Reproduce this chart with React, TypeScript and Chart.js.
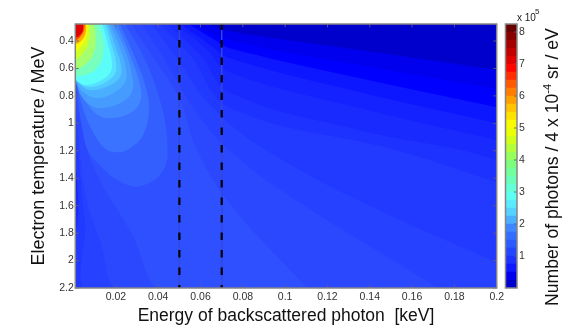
import React, { useEffect, useRef } from "react";
import { Chart, registerables } from "chart.js";

Chart.register(...registerables);

type Pt = [number, number];

const xTicks = [0.02, 0.04, 0.06, 0.08, 0.1, 0.12, 0.14, 0.16, 0.18, 0.2];
const yTicks = [0.4, 0.6, 0.8, 1, 1.2, 1.4, 1.6, 1.8, 2, 2.2];
const barTicks = [1, 2, 3, 4, 5, 6, 7, 8];
const markers = [0.05, 0.07];
const X_MIN = 0.0008, X_MAX = 0.2, Y_MIN = 0.276, Y_MAX = 2.2, BAR_MAX = 8.25;

// corners just outside the axes, used to close contour regions
const TL: Pt = [-0.002, 0.26];
const BR: Pt = [0.206, 2.25];
const BL: Pt = [-0.002, 2.25];

// filled contour regions, outermost first: [energy keV, temperature MeV]
const contourColors = [
  "rgb(0,0,205)", "rgb(0,0,238)", "rgb(0,0,255)", "rgb(12,22,255)", "rgb(20,34,255)", "rgb(25,42,255)",
  "rgb(29,50,255)", "rgb(34,58,255)", "rgb(38,65,255)", "rgb(43,72,255)", "rgb(47,80,255)",
  "rgb(52,95,255)", "rgb(58,115,255)", "rgb(65,135,255)", "rgb(70,155,255)", "rgb(75,175,255)",
  "rgb(80,200,255)", "rgb(85,225,255)", "rgb(92,252,248)", "rgb(120,255,190)", "rgb(165,255,110)",
  "rgb(205,255,40)", "rgb(250,250,0)", "rgb(255,170,0)", "rgb(255,70,0)", "rgb(225,0,0)",
];
const c00: Pt[] = [[-0.002, 0.26], [0.206, 0.26], BR, BL];
const c01: Pt[] = [[0.0598, 0.26], [0.0735, 0.327], [0.1351, 0.466], [0.2, 0.612], [0.206, 0.63], BR, BL, TL];
const c02: Pt[] = [[0.055, 0.26], [0.0735, 0.393], [0.1351, 0.575], [0.2, 0.75], [0.206, 0.765], BR, BL, TL];
const c03: Pt[] = [[0.0527, 0.26], [0.0669, 0.393], [0.0735, 0.451], [0.1351, 0.67], [0.2, 0.882], [0.206, 0.9], BR, BL, TL];
const c04: Pt[] = [[0.0494, 0.26], [0.0645, 0.429], [0.0735, 0.524], [0.1351, 0.772], [0.2, 0.999], [0.206, 1.02], BR, [0.0015, 2.25], [0.0012, 1.5], [-0.002, 0.8], TL];
const c05: Pt[] = [[0.0465, 0.26], [0.0622, 0.451], [0.0735, 0.626], [0.1351, 0.889], [0.2, 1.123], [0.206, 1.145], BR, [0.0024, 2.25], [0.0015, 1.415], [-0.002, 0.8], TL];
const c06: Pt[] = [[0.0432, 0.26], [0.0598, 0.502], [0.0735, 0.772], [0.1351, 1.05], [0.1839, 1.196], [0.2, 1.269], [0.206, 1.29], BR, [0.0043, 2.25], [0.0022, 1.561], [-0.001, 0.9], TL];
const c07: Pt[] = [[0.0399, 0.26], [0.055, 0.502], [0.0735, 0.882], [0.1526, 1.196], [0.2, 1.429], [0.206, 1.46], BR, [0.0053, 2.25], [0.0024, 1.561], [-0.001, 0.9], TL];
const c08: Pt[] = [[0.0361, 0.26], [0.0494, 0.539], [0.0645, 0.867], [0.091, 1.196], [0.1445, 1.634], [0.2, 2.013], [0.206, 2.06], BR, [0.0096, 2.25], [0.0053, 1.707], [0.002, 1.196], [-0.001, 0.7], TL];
const c09: Pt[] = [[0.0314, 0.26], [0.0432, 0.539], [0.0574, 0.904], [0.0735, 1.196], [0.1052, 1.561], [0.1716, 2.195], [0.175, 2.25], [0.0243, 2.25], [0.0124, 1.853], [0.0053, 1.488], [0.002, 1.05], [-0.001, 0.6], TL];
const c10: Pt[] = [[0.0266, 0.26], [0.0385, 0.539], [0.0503, 0.831], [0.0583, 1.196], [0.0744, 1.597], [0.11, 2.195], [0.113, 2.25], [0.0442, 2.25], [0.0267, 1.78], [0.0101, 1.342], [0.003, 0.977], [-0.001, 0.6], TL];
const c11: Pt[] = [[0.0238, 0.26], [0.0338, 0.539], [0.0408, 0.831], [0.0442, 1.123], [0.0423, 1.342], [0.0314, 1.458], [0.021, 1.415], [0.0124, 1.305], [0.0067, 1.196], [0.0039, 1.013], [0.002, 0.831], [0.0011, 0.648], [-0.001, 0.6], TL];
const c12: Pt[] = [[0.0214, 0.26], [0.0285, 0.502], [0.0338, 0.721], [0.0356, 0.904], [0.0328, 1.086], [0.0266, 1.181], [0.021, 1.21], [0.0148, 1.181], [0.0087, 1.05], [0.0039, 0.867], [0.0011, 0.685], [-0.001, 0.6], TL];
const c13: Pt[] = [[0.02, 0.26], [0.0266, 0.502], [0.0314, 0.721], [0.0314, 0.845], [0.0266, 0.926], [0.0172, 0.962], [0.0115, 0.94], [0.0063, 0.853], [0.0025, 0.758], [0.0011, 0.67], [-0.001, 0.6], TL];
const c14: Pt[] = [[0.0181, 0.26], [0.0243, 0.466], [0.0276, 0.648], [0.0276, 0.772], [0.0219, 0.853], [0.0124, 0.889], [0.0077, 0.867], [0.0034, 0.794], [0.0011, 0.699], [-0.001, 0.6], TL];
const c15: Pt[] = [[0.0167, 0.26], [0.0219, 0.451], [0.0247, 0.597], [0.0243, 0.699], [0.0186, 0.78], [0.011, 0.816], [0.0058, 0.787], [0.0025, 0.736], [0.0011, 0.67], [-0.001, 0.6], TL];
const c16: Pt[] = [[0.0158, 0.26], [0.02, 0.451], [0.0224, 0.575], [0.0219, 0.663], [0.0162, 0.729], [0.0082, 0.758], [0.0039, 0.729], [0.0011, 0.67], [-0.001, 0.6], TL];
const c17: Pt[] = [[0.0148, 0.26], [0.0181, 0.437], [0.02, 0.553], [0.0195, 0.641], [0.0143, 0.707], [0.0072, 0.736], [0.0034, 0.714], [0.0011, 0.67], [-0.001, 0.6], TL];
const c18: Pt[] = [[0.0134, 0.26], [0.0162, 0.422], [0.0181, 0.553], [0.0172, 0.633], [0.0124, 0.692], [0.0063, 0.721], [0.003, 0.707], [0.0011, 0.685], [-0.001, 0.6], TL];
const c19: Pt[] = [[0.012, 0.26], [0.0139, 0.393], [0.0139, 0.502], [0.011, 0.597], [0.0067, 0.641], [0.0011, 0.648], [-0.001, 0.58], TL];
const c20: Pt[] = [[0.0096, 0.26], [0.0105, 0.378], [0.0096, 0.48], [0.0067, 0.553], [0.0011, 0.604], [-0.001, 0.55], TL];
const c21: Pt[] = [[0.0077, 0.26], [0.0077, 0.356], [0.0067, 0.429], [0.0044, 0.488], [0.0011, 0.531], [-0.001, 0.48], TL];
const c22: Pt[] = [[0.0067, 0.26], [0.0063, 0.345], [0.0052, 0.4], [0.0032, 0.445], [0.0011, 0.47], [-0.001, 0.42], TL];
const c23: Pt[] = [[0.0058, 0.26], [0.0058, 0.335], [0.0044, 0.385], [0.0011, 0.42], [-0.001, 0.38], TL];
const c24: Pt[] = [[0.0053, 0.26], [0.0049, 0.32], [0.0034, 0.364], [0.0011, 0.393], [-0.001, 0.36], TL];
const c25: Pt[] = [[0.0044, 0.26], [0.0044, 0.32], [0.003, 0.356], [0.0011, 0.371], [-0.001, 0.34], TL];
const contours: Pt[][] = [c00, c01, c02, c03, c04, c05, c06, c07, c08, c09, c10, c11, c12, c13, c14, c15, c16, c17, c18, c19, c20, c21, c22, c23, c24, c25];

// colour bar bands: upper value (x 10^5) and colour
const bandTops = [0.25, 0.5, 0.75, 1, 1.25, 1.5, 1.75, 2, 2.25, 2.5, 2.75, 3, 3.25, 3.5, 3.75, 4, 4.25, 4.5, 4.75, 5, 5.25, 5.5, 5.75, 6, 6.25, 6.5, 6.75, 7, 7.25, 7.5, 7.75, 8, 8.25];
const bandColors = [
  "rgb(0,0,205)", "rgb(0,0,240)", "rgb(15,25,255)", "rgb(28,50,255)", "rgb(35,70,255)", "rgb(43,90,255)",
  "rgb(52,110,255)", "rgb(62,135,255)", "rgb(75,175,255)", "rgb(85,210,255)", "rgb(90,235,255)", "rgb(92,255,240)",
  "rgb(100,255,215)", "rgb(105,255,185)", "rgb(115,255,155)", "rgb(125,255,125)", "rgb(150,255,90)", "rgb(180,255,55)",
  "rgb(210,255,25)", "rgb(235,255,5)", "rgb(250,250,0)", "rgb(255,225,0)", "rgb(255,195,0)", "rgb(255,160,0)",
  "rgb(255,125,0)", "rgb(255,90,0)", "rgb(255,45,0)", "rgb(255,5,0)", "rgb(225,0,0)", "rgb(195,0,0)",
  "rgb(165,0,0)", "rgb(135,0,0)", "rgb(105,0,0)",
];

const FONT = "'Liberation Sans', Arial, sans-serif";
const FRAME = "#858585";

const frame = (tickLen: number, both: boolean) => ({
  id: "frame",
  afterDatasetsDraw(chart: any) {
    const { ctx, chartArea: a, scales } = chart;
    ctx.save();
    ctx.strokeStyle = "rgba(95,95,120,0.85)";
    ctx.lineWidth = 1;
    ctx.beginPath();
    for (const id of Object.keys(scales)) {
      const s = scales[id];
      if (!s.options.display) continue;
      for (const t of s.ticks) {
        const p = s.getPixelForValue(t.value);
        if (s.isHorizontal()) {
          ctx.moveTo(p, a.bottom); ctx.lineTo(p, a.bottom - tickLen);
          ctx.moveTo(p, a.top); ctx.lineTo(p, a.top + tickLen);
        } else {
          ctx.moveTo(a.right, p); ctx.lineTo(a.right - tickLen, p);
          if (both) { ctx.moveTo(a.left, p); ctx.lineTo(a.left + tickLen, p); }
        }
      }
    }
    ctx.stroke();
    ctx.strokeStyle = FRAME;
    ctx.lineWidth = 1.5;
    ctx.strokeRect(a.left, a.top, a.right - a.left, a.bottom - a.top);
    ctx.restore();
  },
});

const barText = {
  id: "barText",
  afterDraw(chart: any) {
    const { ctx } = chart;
    ctx.save();
    ctx.fillStyle = "#222";
    ctx.textBaseline = "alphabetic";
    ctx.font = `10px ${FONT}`;
    ctx.fillText("x 10", 517, 21);
    ctx.font = `8px ${FONT}`;
    ctx.fillText("5", 535, 13.5);
    // rotated axis title, running upwards from the bottom
    ctx.translate(558, 306);
    ctx.rotate(-Math.PI / 2);
    ctx.fillStyle = "#111";
    const big = `17.6px ${FONT}`;
    const small = `11px ${FONT}`;
    let x = 0;
    ctx.font = big;
    const head = "Number of photons / 4 x 10";
    ctx.fillText(head, x, 0);
    x += ctx.measureText(head).width;
    ctx.font = small;
    ctx.fillText("-4", x, -7);
    x += ctx.measureText("-4").width;
    ctx.font = big;
    ctx.fillText(" sr / eV", x, 0);
    ctx.restore();
  },
};

export default function App() {
  const mainRef = useRef<HTMLCanvasElement>(null);
  const barRef = useRef<HTMLCanvasElement>(null);

  useEffect(() => {
    const main = new Chart(mainRef.current!, {
      type: "scatter",
      data: {
        datasets: [
          ...contours.map((pts, i) => ({
            data: pts.map(([x, y]) => ({ x, y })),
            showLine: true,
            fill: "shape",
            backgroundColor: contourColors[i],
            borderColor: contourColors[i],
            borderWidth: 0,
            pointRadius: 0,
            tension: 0.4,
            order: 100 - i,
          })),
          ...markers.map((m) => ({
            data: [{ x: m, y: Y_MIN }, { x: m, y: Y_MAX }],
            showLine: true,
            borderColor: "rgb(55,72,215)",
            borderWidth: 1,
            pointRadius: 0,
            order: 2,
          })),
          ...markers.map((m) => ({
            data: [{ x: m, y: Y_MIN }, { x: m, y: Y_MAX }],
            showLine: true,
            borderColor: "#000",
            borderWidth: 2.2,
            borderDash: [7.5, 10],
            borderDashOffset: 1.5,
            pointRadius: 0,
            order: 1,
          })),
        ],
      } as any,
      options: {
        animation: false,
        responsive: false,
        events: [],
        layout: { padding: { left: 0, right: 85.3, top: 24, bottom: 0 } },
        plugins: { legend: { display: false }, tooltip: { enabled: false } },
        scales: {
          x: {
            type: "linear",
            min: X_MIN,
            max: X_MAX,
            grid: { display: false, drawTicks: false },
            border: { display: false },
            afterBuildTicks: (s: any) => { s.ticks = xTicks.map((value) => ({ value })); },
            afterFit: (s: any) => { s.height = 40; },
            ticks: { callback: (v: any) => String(v), maxRotation: 0, autoSkip: false, padding: 3, color: "#333", font: { family: FONT, size: 10.5 } },
            title: { display: true, text: "Energy of backscattered photon  [keV]", color: "#111", padding: { top: 0, bottom: 1 }, font: { family: FONT, size: 17.5 } },
          },
          y: {
            type: "linear",
            reverse: true,
            min: Y_MIN,
            max: Y_MAX,
            grid: { display: false, drawTicks: false },
            border: { display: false },
            afterBuildTicks: (s: any) => { s.ticks = yTicks.map((value) => ({ value })); },
            afterFit: (s: any) => { s.width = 75.3; },
            ticks: { callback: (v: any) => String(v), autoSkip: false, padding: 1.5, color: "#333", font: { family: FONT, size: 10.5 } },
            title: { display: true, text: "Electron temperature / MeV", color: "#111", padding: { top: 28, bottom: 0 }, font: { family: FONT, size: 17.9 } },
          },
        },
      } as any,
      plugins: [frame(3.5, true)],
    } as any);

    const bar = new Chart(barRef.current!, {
      type: "bar",
      data: {
        labels: [""],
        datasets: bandTops.map((top, i) => ({
          data: [i === 0 ? top : top - bandTops[i - 1]],
          backgroundColor: bandColors[i],
          borderWidth: 0,
          stack: "bar",
          categoryPercentage: 1,
          barPercentage: 1,
        })),
      },
      options: {
        animation: false,
        responsive: false,
        events: [],
        layout: { padding: { left: 505.5, right: 0, top: 24, bottom: 40 } },
        plugins: { legend: { display: false }, tooltip: { enabled: false } },
        scales: {
          x: { display: false, stacked: true },
          y: {
            position: "right",
            stacked: true,
            min: 0,
            max: BAR_MAX,
            grid: { display: false, drawTicks: false },
            border: { display: false },
            afterBuildTicks: (s: any) => { s.ticks = barTicks.map((value) => ({ value })); },
            afterFit: (s: any) => { s.width = 65; },
            ticks: { callback: (v: any) => String(v), autoSkip: false, padding: 2, color: "#333", font: { family: FONT, size: 10.5 } },
          },
        },
      } as any,
      plugins: [frame(3, false), barText],
    } as any);

    return () => {
      main.destroy();
      bar.destroy();
    };
  }, []);

  const box: React.CSSProperties = { position: "absolute", left: 0, top: 0, width: 582, height: 328, display: "block" };
  return (
    <div style={{ position: "fixed", left: 0, top: 0, width: 582, height: 328, overflow: "hidden", background: "#fff" }}>
      <canvas ref={mainRef} width={582} height={328} style={box} />
      <canvas ref={barRef} width={582} height={328} style={box} />
    </div>
  );
}
